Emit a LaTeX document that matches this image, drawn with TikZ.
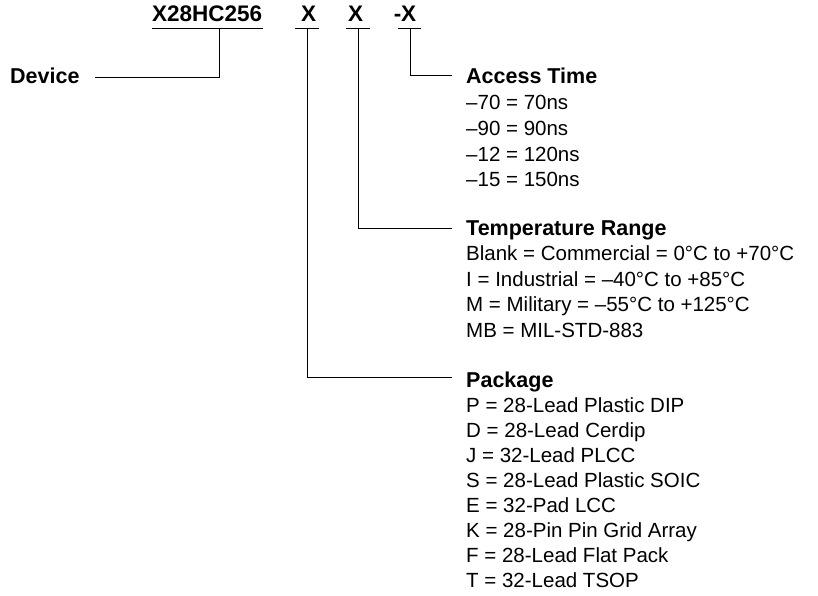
\documentclass[tikz,border=0pt]{standalone}
\usepackage{fontspec}
\setmainfont{Liberation Sans}
\begin{document}
\begin{tikzpicture}[x=1pt,y=-1pt,
  lbl/.style={anchor=base west,inner sep=0pt,font=\fontsize{20.5}{24}\selectfont},
  hd/.style={anchor=base west,inner sep=0pt,font=\fontsize{21.5}{24}\selectfont\bfseries},
  code/.style={anchor=base,inner sep=0pt,font=\fontsize{22.5}{24}\selectfont\bfseries},
  wire/.style={line width=0.9pt,line cap=butt}]
\useasboundingbox (0,0) rectangle (818,596);
% part number fields
\node[code,anchor=base west] (pn) at (152,22) {X28HC256};
\node[code] (x1) at (308.5,22) {X};
\node[code] (x2) at (355.5,22) {X};
\node[code] (x3) at (405,22) {-X};
% underlines
\coordinate (u0a) at (152,28); \coordinate (u0b) at (263,28);
\coordinate (u1a) at (295,28); \coordinate (u1b) at (319,28);
\coordinate (u2a) at (346,28); \coordinate (u2b) at (370,28);
\coordinate (u3a) at (398,28); \coordinate (u3b) at (421,28);
\draw[wire] (u0a) -- (u0b);
\draw[wire] (u1a) -- (u1b);
\draw[wire] (u2a) -- (u2b);
\draw[wire] (u3a) -- (u3b);
% device
\node[hd] (dev) at (10,84) {Device};
\coordinate (d0) at (219,28); \coordinate (d1) at (95,77);
\draw[wire] (d0) |- (d1);
% access time
\node[hd] (acc) at (466,84) {Access Time};
\coordinate (a0) at (410,28); \coordinate (a1) at (452,75);
\draw[wire] (a0) |- (a1);
\node[lbl] (acc1) at (466,110) {–70 = 70ns};
\node[lbl] (acc2) at (466,135.5) {–90 = 90ns};
\node[lbl] (acc3) at (466,161) {–12 = 120ns};
\node[lbl] (acc4) at (466,186.5) {–15 = 150ns};
% temperature range
\node[hd] (tmp) at (466,235) {Temperature Range};
\coordinate (t0) at (358,28); \coordinate (t1) at (452,228);
\draw[wire] (t0) |- (t1);
\node[lbl] (tmp1) at (466,260.5) {Blank = Commercial = 0°C to +70°C};
\node[lbl] (tmp2) at (466,286) {I = Industrial = –40°C to +85°C};
\node[lbl] (tmp3) at (466,311.5) {M = Military = –55°C to +125°C};
\node[lbl] (tmp4) at (466,337) {MB = MIL-STD-883};
% package
\node[hd] (pkg) at (466,387) {Package};
\coordinate (p0) at (307,28); \coordinate (p1) at (452,377);
\draw[wire] (p0) |- (p1);
\node[lbl] (pk1) at (466,412.5) {P = 28-Lead Plastic DIP};
\node[lbl] (pk2) at (466,437.5) {D = 28-Lead Cerdip};
\node[lbl] (pk3) at (466,462.5) {J = 32-Lead PLCC};
\node[lbl] (pk4) at (466,487.5) {S = 28-Lead Plastic SOIC};
\node[lbl] (pk5) at (466,512.5) {E = 32-Pad LCC};
\node[lbl] (pk6) at (466,537.5) {K = 28-Pin Pin Grid Array};
\node[lbl] (pk7) at (466,562.5) {F = 28-Lead Flat Pack};
\node[lbl] (pk8) at (466,587.5) {T = 32-Lead TSOP};
\end{tikzpicture}
\end{document}
